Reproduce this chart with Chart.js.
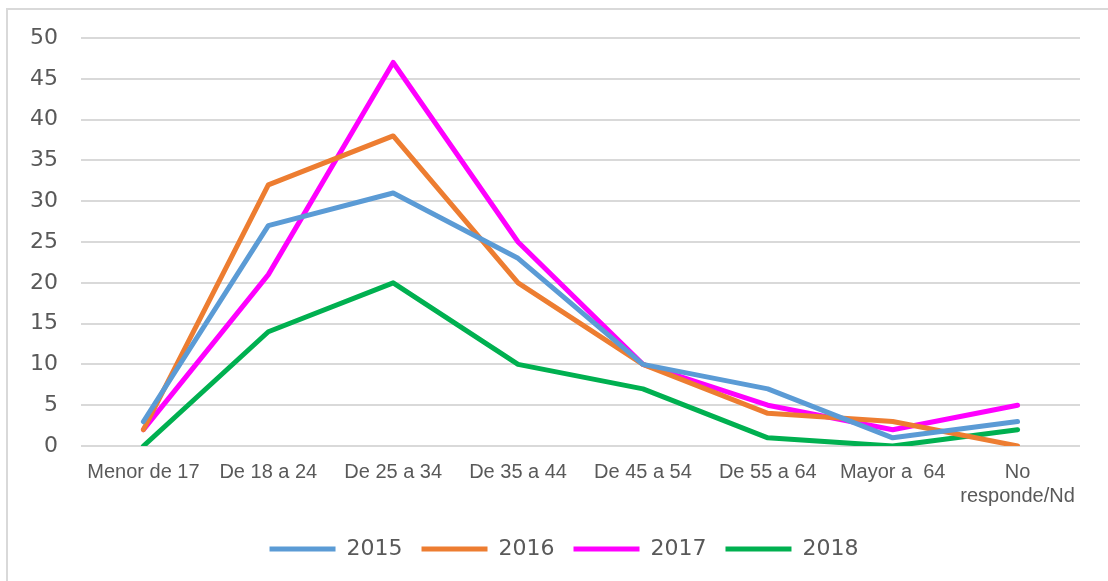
<!DOCTYPE html>
<html>
<head>
<meta charset="utf-8">
<script src="https://cdn.jsdelivr.net/npm/chart.js@4"></script>
<style>
  html, body { margin: 0; padding: 0; background: #fff; }
  #wrap { position: relative; width: 1108px; height: 581px; }
  #frame { position: absolute; left: 6px; top: 8px; right: 0; bottom: 0; border-top: 2px solid #d9d9d9; border-left: 2px solid #d9d9d9; }
  canvas { position: absolute; left: 0; top: 0; }
</style>
</head>
<body>
<div id="wrap">
  <div id="frame"></div>
  <canvas id="c" width="1108" height="581"></canvas>
</div>
<script>
const categories = ["Menor de 17", "De 18 a 24", "De 25 a 34", "De 35 a 44", "De 45 a 54", "De 55 a 64", "Mayor a  64", ["No", "responde/Nd"]];
const seriesNames = ["2015", "2016", "2017", "2018"];
const values2015 = [3, 27, 31, 23, 10, 7, 1, 3];
const values2016 = [2, 32, 38, 20, 10, 4, 3, 0];
const values2017 = [2, 21, 47, 25, 10, 5, 2, 5];
const values2018 = [0, 14, 20, 10, 7, 1, 0, 2];
const yTicks = [0, 5, 10, 15, 20, 25, 30, 35, 40, 45, 50];

const colors = ["#5B9BD5", "#ED7D31", "#FF00FF", "#00B050"];
const allValues = [values2015, values2016, values2017, values2018];

const legendShift = {
  id: "legendShift",
  afterLayout(chart) {
    const l = chart.legend;
    if (l) { l.left += 19; l.right += 19; }
  }
};

new Chart(document.getElementById("c"), {
  type: "line",
  data: {
    labels: categories,
    datasets: seriesNames.map((n, i) => ({
      label: n,
      data: allValues[i],
      borderColor: colors[i],
      backgroundColor: colors[i],
      borderWidth: 5,
      pointRadius: 0,
      tension: 0,
      borderCapStyle: "round",
      borderJoinStyle: "round",
      pointStyle: "line"
    }))
  },
  plugins: [legendShift],
  options: {
    responsive: false,
    animation: false,
    devicePixelRatio: 1,
    layout: { padding: { left: 10, right: 28, top: 38, bottom: 11 } },
    plugins: {
      tooltip: { enabled: false },
      legend: {
        position: "bottom",
        labels: {
          usePointStyle: true,
          pointStyleWidth: 66,
          padding: 19,
          color: "#595959",
          font: { family: "DejaVu Sans", size: 22 }
        }
      }
    },
    scales: {
      x: {
        offset: true,
        grid: { display: false, drawTicks: false },
        border: { display: false },
        ticks: {
          color: "#595959",
          padding: 14,
          maxRotation: 0,
          autoSkip: false,
          font: { family: "Liberation Sans Narrow, Arial Narrow, Liberation Sans", size: 20 }
        },
        afterFit: s => { s.height = 73; }
      },
      y: {
        min: 0,
        max: 50,
        afterBuildTicks: s => { s.ticks = yTicks.map(v => ({ value: v })); },
        grid: { color: "#d9d9d9", lineWidth: 2, drawTicks: false },
        border: { display: false },
        ticks: {
          color: "#595959",
          padding: 23,
          font: { family: "DejaVu Sans", size: 22 }
        },
        afterFit: s => { s.width = 71; }
      }
    }
  }
});
</script>
</body>
</html>
